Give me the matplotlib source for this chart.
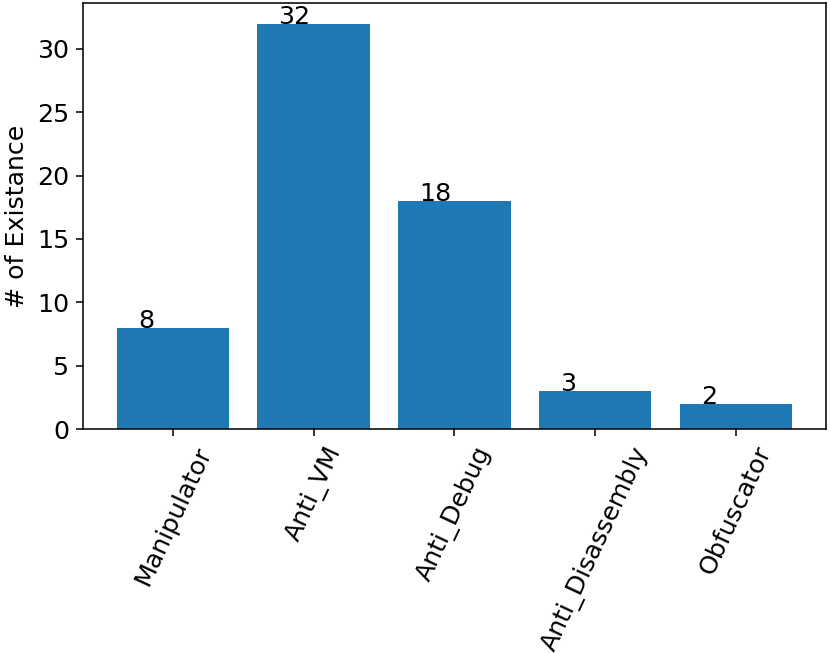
import matplotlib
matplotlib.use("Agg")
import matplotlib.pyplot as plt

categories = ["Manipulator", "Anti_VM", "Anti_Debug", "Anti_Disassembly", "Obfuscator"]
counts = [8, 32, 18, 3, 2]

plt.rcParams["font.size"] = 13

fig = plt.figure(figsize=(830 / 140, 653 / 140), dpi=140)
ax = fig.add_axes([0.100, 0.343, 0.895, 0.652])

positions = range(len(categories))
ax.bar(positions, counts, color="#1f77b4")
for i, v in zip(positions, counts):
    ax.text(i - 0.25, v, str(v))

ax.set_xticks(list(positions))
ax.set_xticklabels(categories, rotation=65)
ax.set_ylabel("# of Existance")

fig.savefig("out.png", dpi=140)
